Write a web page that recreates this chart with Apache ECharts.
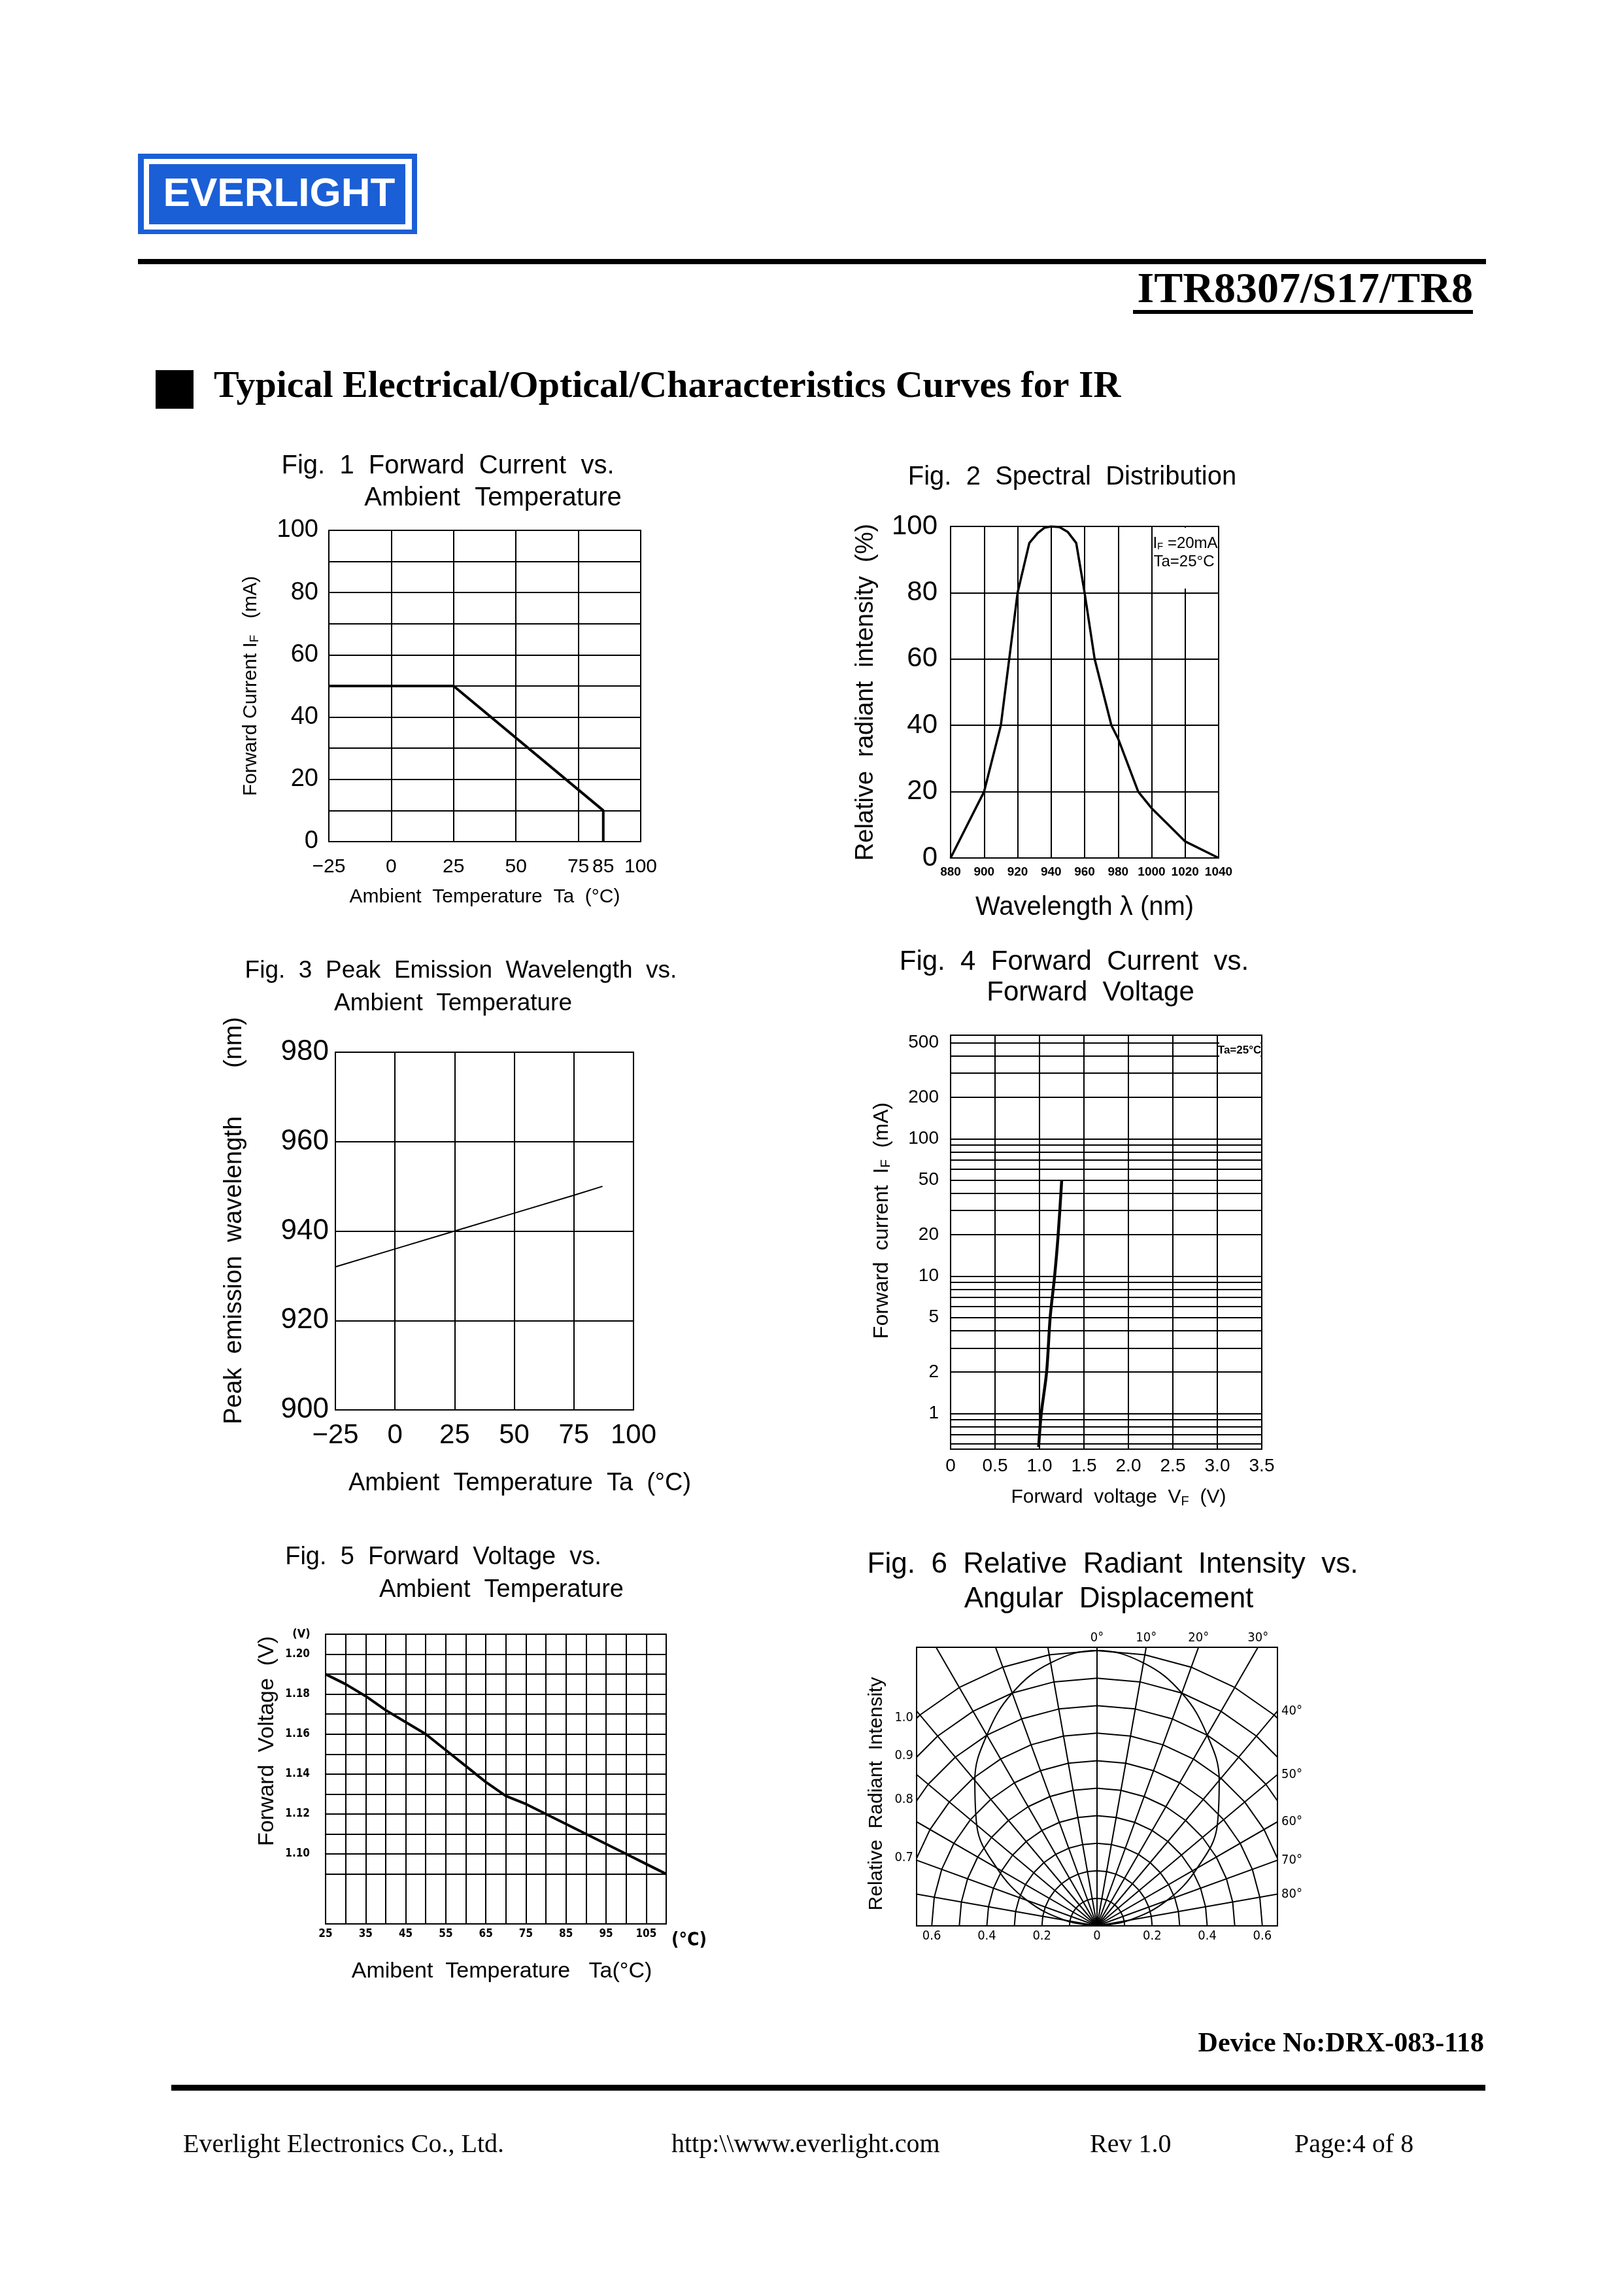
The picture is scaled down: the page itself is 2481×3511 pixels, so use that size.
<!DOCTYPE html>
<html><head><meta charset="utf-8">
<script src="https://cdn.jsdelivr.net/npm/echarts@6/dist/echarts.min.js"></script>
<style>html,body{margin:0;padding:0;background:#fff}#c{width:2481px;height:3511px}</style>
</head><body><div id="c"></div>
<script>
// ---------- Fig 1: Forward Current vs Ambient Temperature ----------
const fig1Temp = [-25, 25, 85, 85];
const fig1Current = [50, 50, 10, 0];
const fig1XLabels = [-25, 0, 25, 50, 75, 85, 100];
// ---------- Fig 2: Spectral Distribution ----------
const fig2Wavelength = [880, 890, 900, 905, 910, 915, 920, 927, 932, 936, 940, 945, 950, 955, 960, 966, 971, 976, 980, 992, 1000, 1010, 1020, 1040];
const fig2Intensity = [0, 10, 20, 30, 40, 60, 80, 95, 98, 99.6, 100, 99.8, 98.3, 95, 80, 60, 50, 40, 36, 20, 15, 10, 5, 0];
// ---------- Fig 3: Peak Emission Wavelength vs Ambient Temperature ----------
const fig3Temp = [-25, 0, 25, 50, 75, 87];
const fig3Wavelength = [932, 936, 940, 944, 948, 950];
// ---------- Fig 4: Forward Current vs Forward Voltage ----------
const fig4Voltage = [0.99, 1.02, 1.08, 1.12, 1.17, 1.21, 1.25];
const fig4Current = [0.57, 1, 2, 5, 10, 20, 50];
const fig4GridCurrents = [0.6, 0.7, 0.8, 0.9, 1, 2, 3, 4, 5, 6, 7, 8, 9, 10, 20, 30, 40, 50, 60, 70, 80, 90, 100, 200, 300, 400, 500];
const fig4TickLabels = [1, 2, 5, 10, 20, 50, 100, 200, 500];
// ---------- Fig 5: Forward Voltage vs Ambient Temperature ----------
const fig5Temp = [25, 30, 35, 40, 45, 50, 55, 60, 65, 70, 75, 80, 85, 90, 95, 100, 105, 110];
const fig5Voltage = [1.19, 1.185, 1.179, 1.172, 1.166, 1.16, 1.152, 1.144, 1.136, 1.129, 1.125, 1.12, 1.115, 1.11, 1.105, 1.10, 1.095, 1.09];
const fig5GridVolts = [1.09, 1.10, 1.11, 1.12, 1.13, 1.14, 1.15, 1.16, 1.17, 1.18, 1.19, 1.20, 1.21];
const fig5TickLabels = [1.10, 1.12, 1.14, 1.16, 1.18, 1.20];
// ---------- Fig 6: Relative Radiant Intensity vs Angular Displacement ----------
const fig6Angles = [-90, -80, -70, -60, -50, -40, -30, -20, -10, 0, 10, 20, 30, 40, 50, 60, 70, 80, 90];
const fig6Intensity = [0, 0.12, 0.27, 0.42, 0.57, 0.69, 0.80, 0.90, 0.97, 1.0, 0.97, 0.90, 0.80, 0.69, 0.57, 0.42, 0.27, 0.12, 0];
const fig6Rings = [0.1, 0.2, 0.3, 0.4, 0.5, 0.6, 0.7, 0.8, 0.9, 1.0];
const fig6Spokes = [-80, -70, -60, -50, -40, -30, -20, -10, 0, 10, 20, 30, 40, 50, 60, 70, 80];
const fig6BottomLabels = [-0.6, -0.4, -0.2, 0, 0.2, 0.4, 0.6];
const fig6TopAngles = [0, 10, 20, 30];
const fig6SideAngles = [40, 50, 60, 70, 80];
const fig6LeftRings = [0.7, 0.8, 0.9, 1.0];

const FONT = '"Liberation Sans", Arial, sans-serif';
const NARROW = '"Liberation Sans Narrow", "DejaVu Sans Condensed", "Liberation Sans", sans-serif';
const SERIF = '"Liberation Serif", "Times New Roman", serif';
const BLUE = '#1b5fd6';
const F6X = 0.655, F6Y = 1.012;
const rad = d => d * Math.PI / 180;
const zip = (a, b) => a.map((v, i) => [v, b[i]]);
const minus = v => (v < 0 ? '\u2212' + Math.abs(v) : String(v));

const chart = echarts.init(document.getElementById('c'), null, {renderer: 'canvas'});

const gridBase = {show: true, borderColor: '#000', borderWidth: 2, containLabel: false};
const grids = [
  Object.assign({left: 503, top: 811, width: 477, height: 476}, gridBase),
  Object.assign({left: 1454, top: 805, width: 410, height: 507}, gridBase),
  Object.assign({left: 513, top: 1609, width: 456, height: 547}, gridBase),
  Object.assign({left: 1454, top: 1583, width: 476, height: 633}, gridBase),
  Object.assign({left: 498, top: 2499, width: 521, height: 443}, gridBase),
  Object.assign({left: 1402, top: 2519, width: 552, height: 426}, gridBase)
];

function ax(extra, label, name) {
  const o = {
    type: 'value',
    axisLine: {show: false},
    axisTick: {show: false},
    splitLine: {show: true, lineStyle: {color: '#000', width: 2}},
    axisLabel: Object.assign({color: '#000', fontFamily: FONT}, label || {}),
    nameTextStyle: Object.assign({color: '#000', fontFamily: FONT}, (name && name.style) || {})
  };
  if (name) {
    o.name = name.text;
    o.nameLocation = 'middle';
    o.nameGap = name.gap;
    if (name.rotate) o.nameRotate = name.rotate;
  }
  return Object.assign(o, extra);
}
const subRich = (size, pad) => ({s: {fontSize: size, fontFamily: FONT, color: '#000', padding: [pad, 0, 0, 0]}});

const xAxis = [
  ax({gridIndex: 0, min: -25, max: 100, interval: 25},
     {fontSize: 30, margin: 24, customValues: fig1XLabels, formatter: minus},
     {text: 'Ambient  Temperature  Ta  (°C)', gap: 70, style: {fontSize: 30}}),
  ax({gridIndex: 1, min: 880, max: 1040, interval: 20},
     {fontSize: 19, fontWeight: 'bold', margin: 12, formatter: v => String(v)},
     {text: 'Wavelength λ (nm)', gap: 56, style: {fontSize: 40}}),
  ax({gridIndex: 2, min: -25, max: 100, interval: 25},
     {fontSize: 42, margin: 18, formatter: minus},
     {text: 'Ambient  Temperature  Ta  (°C)', gap: 94, style: {fontSize: 38, padding: [0, 0, 0, 108]}}),
  ax({gridIndex: 3, min: 0, max: 3.5, interval: 0.5},
     {fontSize: 28, margin: 12, formatter: v => (v === 0 ? '0' : v.toFixed(1))},
     {text: 'Forward  voltage  V{s|F}  (V)', gap: 58, style: {fontSize: 30, padding: [0, 0, 0, 38], rich: subRich(20, 12)}}),
  ax({gridIndex: 4, min: 25, max: 110, interval: 5},
     {fontSize: 17, fontWeight: 'bold', fontFamily: NARROW, margin: 7,
      formatter: v => ((v - 25) % 10 === 0 ? String(v) : '')},
     {text: 'Amibent  Temperature   Ta(°C)', gap: 56, style: {fontSize: 34, padding: [0, 0, 0, 18]}}),
  ax({gridIndex: 5, min: -F6X, max: F6X, splitLine: {show: false}},
     {fontSize: 20, fontFamily: NARROW, margin: 6, customValues: fig6BottomLabels,
      formatter: v => (Math.abs(v) < 1e-9 ? '0' : Math.abs(v).toFixed(1))}),
  ax({gridIndex: 5, position: 'top', min: -F6X, max: F6X, splitLine: {show: false}},
     {fontSize: 20, fontFamily: NARROW, margin: 4,
      customValues: fig6TopAngles.map(a => F6Y * Math.tan(rad(a))),
      formatter: v => Math.round(Math.atan2(v, F6Y) * 180 / Math.PI) + '°'})
];

const yAxis = [
  ax({gridIndex: 0, min: 0, max: 100, interval: 10},
     {fontSize: 38, margin: 16, formatter: v => (v % 20 === 0 ? String(v) : '')},
     {text: 'Forward Current I{s|F}   (mA)', gap: 104, rotate: 90, style: {fontSize: 30, rich: subRich(19, 12)}}),
  ax({gridIndex: 1, min: 0, max: 100, interval: 20},
     {fontSize: 42, margin: 20},
     {text: 'Relative  radiant  intensity  (%)', gap: 110, rotate: 90, style: {fontSize: 38}}),
  ax({gridIndex: 2, min: 900, max: 980, interval: 20},
     {fontSize: 44, margin: 10},
     {text: 'Peak  emission  wavelength       (nm)', gap: 135, rotate: 90, style: {fontSize: 38, padding: [0, 0, 0, 32]}}),
  ax({gridIndex: 3, min: Math.log10(0.55), max: Math.log10(568),
      axisTick: {show: false, customValues: fig4GridCurrents.map(v => Math.log10(v))}},
     {fontSize: 28, margin: 18, customValues: fig4TickLabels.map(v => Math.log10(v)),
      formatter: v => String(Math.round(Math.pow(10, v)))},
     {text: 'Forward  current  I{s|F}  (mA)', gap: 88, rotate: 90, style: {fontSize: 32, padding: [0, 0, 0, 66], rich: subRich(21, 12)}}),
  ax({gridIndex: 4, min: 1.065, max: 1.21, axisTick: {show: false, customValues: fig5GridVolts}},
     {fontSize: 17, fontWeight: 'bold', fontFamily: NARROW, margin: 24, customValues: fig5TickLabels,
      formatter: v => v.toFixed(2)},
     {text: 'Forward  Voltage  (V)', gap: 72, rotate: 90, style: {fontSize: 34, padding: [0, 0, 0, 116]}}),
  ax({gridIndex: 5, min: 0, max: F6Y, splitLine: {show: false}},
     {fontSize: 20, fontFamily: NARROW, margin: 5,
      customValues: fig6LeftRings.map(r => Math.sqrt(r * r - F6X * F6X)),
      formatter: v => Math.sqrt(v * v + F6X * F6X).toFixed(1)},
     {text: 'Relative  Radiant  Intensity', gap: 46, rotate: 90, style: {fontSize: 30, padding: [0, 22, 0, 0]}}),
  ax({gridIndex: 5, position: 'right', min: 0, max: F6Y, splitLine: {show: false}},
     {fontSize: 20, fontFamily: NARROW, margin: 6,
      customValues: fig6SideAngles.map(a => F6X / Math.tan(rad(a))),
      formatter: v => Math.round(Math.atan2(F6X, v) * 180 / Math.PI) + '°'})
];

function line(xi, yi, data, width, extra) {
  return Object.assign({type: 'line', xAxisIndex: xi, yAxisIndex: yi, data: data, symbol: 'none',
    silent: true, animation: false, lineStyle: {color: '#000', width: width}, z: 3}, extra || {});
}

const series = [
  line(0, 0, zip(fig1Temp, fig1Current), 4),
  line(1, 1, zip(fig2Wavelength, fig2Intensity), 3.5),
  line(2, 2, zip(fig3Temp, fig3Wavelength), 2),
  line(3, 3, fig4Voltage.map((v, i) => [v, Math.log10(fig4Current[i])]), 4.5, {smooth: 0.3}),
  line(4, 4, zip(fig5Temp, fig5Voltage), 4),
];
// Fig 6 polar template (rings drawn as 10-degree polylines, spokes every 10 degrees)
fig6Rings.forEach(r => series.push(line(5, 5, fig6Angles.map(a => [r * Math.sin(rad(a)), r * Math.cos(rad(a))]), 2, {z: 2})));
fig6Spokes.forEach(a => series.push(line(5, 5, [[0, 0], [2 * Math.sin(rad(a)), 2 * Math.cos(rad(a))]], 2, {z: 2})));
series.push(line(5, 5, fig6Angles.map((a, i) => [fig6Intensity[i] * Math.sin(rad(a)), fig6Intensity[i] * Math.cos(rad(a))]), 2, {smooth: 0.4}));

function txt(x, y, text, font, align, extra) {
  return Object.assign({type: 'text', x: x, y: y, z: 60, silent: true,
    style: {text: text, font: font, fill: '#000', align: align || 'center', textAlign: align || 'center',
      verticalAlign: 'middle', textVerticalAlign: 'middle'}}, extra || {});
}
function rect(x, y, w, h, fill, z) {
  return {type: 'rect', z: z || 50, silent: true, shape: {x: x, y: y, width: w, height: h}, style: {fill: fill}};
}

const graphic = [
  // logo
  rect(211, 235, 427, 123, BLUE),
  rect(220, 243, 410, 108, '#fff', 51),
  rect(228, 251, 392, 92, BLUE, 52),
  txt(427, 298, 'EVERLIGHT', 'bold 62px ' + FONT, 'center', {style: {text: 'EVERLIGHT', font: 'bold 62px ' + FONT, fill: '#fff', align: 'center', textAlign: 'center', verticalAlign: 'middle', textVerticalAlign: 'middle'}}),
  rect(211, 396, 2062, 8, '#000'),
  txt(2253, 445, 'ITR8307/S17/TR8', 'bold 66px ' + SERIF, 'right'),
  rect(1733, 474, 520, 6, '#000'),
  rect(238, 566, 58, 59, '#000'),
  txt(327, 592, 'Typical Electrical/Optical/Characteristics Curves for IR', 'bold 58px ' + SERIF, 'left'),
  // figure titles
  txt(685, 713, 'Fig.  1  Forward  Current  vs.', '40px ' + FONT),
  txt(754, 762, 'Ambient  Temperature', '40px ' + FONT),
  txt(1640, 730, 'Fig.  2  Spectral  Distribution', '40px ' + FONT),
  txt(705, 1485, 'Fig.  3  Peak  Emission  Wavelength  vs.', '37px ' + FONT),
  txt(693, 1535, 'Ambient  Temperature', '37px ' + FONT),
  txt(1643, 1471, 'Fig.  4  Forward  Current  vs.', '42px ' + FONT),
  txt(1668, 1518, 'Forward  Voltage', '42px ' + FONT),
  txt(678, 2382, 'Fig.  5  Forward  Voltage  vs.', '38px ' + FONT),
  txt(767, 2432, 'Ambient  Temperature', '38px ' + FONT),
  txt(1702, 2393, 'Fig.  6  Relative  Radiant  Intensity  vs.', '44px ' + FONT),
  txt(1696, 2446, 'Angular  Displacement', '44px ' + FONT),
  // Fig 2 annotation
  rect(1764, 807, 99, 93, '#fff', 55),
  {type: 'text', x: 1813, y: 831, z: 60, silent: true,
   style: {text: 'I{s|F} =20mA', font: '24px ' + FONT, fill: '#000', align: 'center', textAlign: 'center', verticalAlign: 'middle', textVerticalAlign: 'middle',
     rich: {s: {fontSize: 15, fontFamily: FONT, fill: '#000', padding: [10, 0, 0, 0]}}}},
  txt(1811, 859, 'Ta=25°C', '24px ' + FONT),
  // Fig 4 annotation
  rect(1865, 1586, 63, 38, '#fff', 55),
  txt(1896, 1606, 'Ta=25°C', 'bold 17px ' + FONT),
  // Fig 5 units
  txt(461, 2499, '(V)', 'bold 18px ' + NARROW),
  txt(1054, 2968, '(°C)', 'bold 28px ' + NARROW),
  // footer
  txt(2270, 3126, 'Device No:DRX-083-118', 'bold 42px ' + SERIF, 'right'),
  rect(262, 3188, 2010, 9, '#000'),
  txt(280, 3280, 'Everlight Electronics Co., Ltd.', '40px ' + SERIF, 'left'),
  txt(1027, 3280, 'http:\\\\www.everlight.com', '40px ' + SERIF, 'left'),
  txt(1667, 3280, 'Rev 1.0', '40px ' + SERIF, 'left'),
  txt(1980, 3280, 'Page:4 of 8', '40px ' + SERIF, 'left')
];

chart.setOption({
  animation: false,
  backgroundColor: '#fff',
  grid: grids,
  xAxis: xAxis,
  yAxis: yAxis,
  series: series,
  graphic: graphic
});
</script>
</body></html>
